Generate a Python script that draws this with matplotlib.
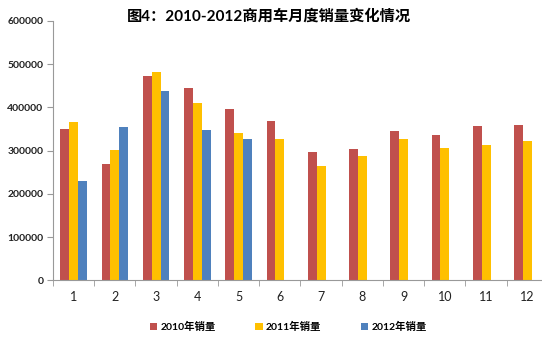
import numpy as np
import matplotlib
matplotlib.use("Agg")
import matplotlib.pyplot as plt

plt.rcParams['font.family'] = ['Lato', 'Noto Sans CJK SC', 'DejaVu Sans']

# 月份与各年销量
months = [str(m) for m in range(1, 13)]
sales_2010 = [349000, 269000, 472000, 444000, 396000, 369000,
              298000, 304000, 345000, 336000, 357000, 359000]
sales_2011 = [366000, 301000, 481000, 411000, 340000, 327000,
              264000, 288000, 328000, 305000, 313000, 322000]
sales_2012 = [230000, 354000, 438000, 348000, 326000]

series_labels = ['2010年销量', '2011年销量', '2012年销量']
colors = ['#C0504D', '#FFC000', '#4F81BD']

fig = plt.figure(figsize=(5.42, 3.53), dpi=100)
ax = fig.add_axes([53 / 542, (353 - 280.3) / 353, (548 - 53) / 542, 259.3 / 353])

x = np.arange(len(months))
w = 0.215
ax.bar(x - w, sales_2010, width=w, color=colors[0], label=series_labels[0])
ax.bar(x, sales_2011, width=w, color=colors[1], label=series_labels[1])
ax.bar(np.arange(len(sales_2012)) + w, sales_2012, width=w, color=colors[2], label=series_labels[2])

ax.set_xlim(-0.5, len(months) - 0.5)
ax.set_ylim(0, 600000)
ax.set_yticks(np.arange(0, 600001, 100000))
ax.set_yticklabels([str(v) for v in range(0, 600001, 100000)], fontsize=7.5, fontweight='bold', color='#222222')

ax.set_xticks(x)
ax.set_xticklabels(months, fontsize=9, color='#222222')
ax.set_xticks(np.arange(-0.5, len(months), 1), minor=True)
ax.tick_params(axis='x', which='major', length=0, pad=8)
ax.tick_params(axis='x', which='minor', length=4, color='#999999')
ax.tick_params(axis='y', length=4, color='#999999', pad=3)

for s in ['top', 'right']:
    ax.spines[s].set_visible(False)
for s in ['left', 'bottom']:
    ax.spines[s].set_color('#999999')
    ax.spines[s].set_linewidth(0.8)

fig.text(0.497, 0.955, '图4：2010-2012商用车月度销量变化情况', ha='center', va='center',
         fontsize=11, fontweight='bold')

fig.legend(loc='center', bbox_to_anchor=(0.532, 0.074), ncol=3, frameon=False,
           prop={'size': 7.5, 'weight': 'bold'}, handlelength=0.7, handleheight=0.7,
           handletextpad=0.3, columnspacing=3.8)

fig.savefig('out.png', dpi=100)
